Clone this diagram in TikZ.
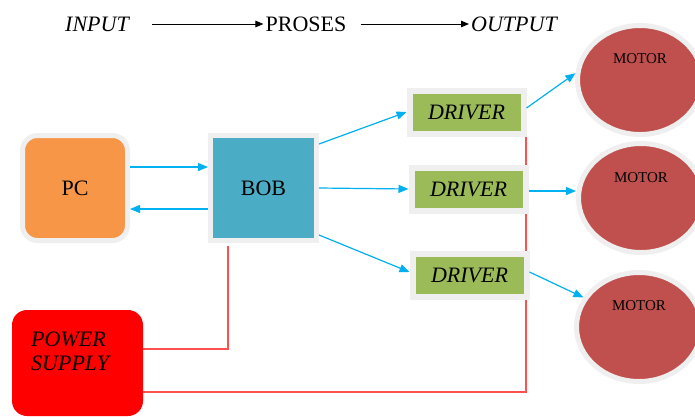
\documentclass[tikz,border=0pt]{standalone}
\usepackage{fontspec}
\setmainfont{Liberation Serif}
\usetikzlibrary{arrows.meta,shapes.geometric}

\definecolor{rimgray}{HTML}{EFEFEF}
\definecolor{pcorange}{HTML}{F79646}
\definecolor{bobblue}{HTML}{4BACC6}
\definecolor{drvgreen}{HTML}{9BBB59}
\definecolor{motorred}{HTML}{C0504D}
\definecolor{psred}{HTML}{FF0000}
\definecolor{sigblue}{HTML}{00B0F0}
\definecolor{pwrred}{HTML}{FF5050}

\tikzset{
  rim/.style={draw=rimgray, line width=5pt},
  big/.style={font=\fontsize{22}{24}\selectfont},
  drv/.style={rim, line width=6pt, fill=drvgreen, minimum width=114pt, minimum height=43pt,
    inner sep=0pt, font=\fontsize{22}{24}\selectfont\itshape},
  motor/.style={ellipse, rim, fill=motorred, minimum width=125pt, minimum height=109pt},
  motortext/.style={font=\fontsize{15}{17}\selectfont},
  flow/.style={draw=black, line width=1pt, -{Triangle[length=8pt,width=6.5pt]}},
  sig/.style={draw=sigblue, line width=1.2pt, -{Triangle[length=10pt,width=8pt]}},
  pwr/.style={draw=pwrred, line width=1.5pt}
}

\begin{document}
\begin{tikzpicture}[x=1pt,y=-1pt]
\useasboundingbox (0,0) rectangle (695,416);

% top line
\node[big, font=\fontsize{22}{24}\selectfont\itshape, inner sep=2pt] (input) at (97,24) {INPUT};
\node[big, inner sep=2pt] (proses) at (306,24) {PROSES};
\node[big, font=\fontsize{22}{24}\selectfont\itshape, inner sep=2pt] (output) at (514,24) {OUTPUT};
\draw[flow] ([xshift=21pt]input.east) -- (proses.west);
\draw[flow] ([xshift=12pt]proses.east) -- (output.west);

% blocks
\node[big, rim, fill=pcorange, rounded corners=15pt, minimum size=105pt] (pc) at (75,188) {PC};
\node[big, rim, fill=bobblue, minimum width=106pt, minimum height=105pt] (bob) at (263.5,188) {BOB};
\node[fill=psred, rounded corners=15pt, minimum width=131pt, minimum height=106pt] (ps) at (77.5,363) {};
\node[big, font=\fontsize{22}{24}\selectfont\itshape, align=left, anchor=west, inner sep=0pt] (pstext) at (31,351) {POWER\\SUPPLY};

% power lines
\coordinate (bus) at (526,128);
\draw[pwr] ([xshift=-35.5pt,yshift=-3pt]bob.south) |- ([yshift=14pt]ps.east);
\draw[pwr] ([yshift=-29pt]ps.east) -| (bus);

\node[drv] (d1) at (466.5,112) {DRIVER};
\node[drv] (d2) at (468.5,189) {DRIVER};
\node[drv] (d3) at (469.5,275) {DRIVER};

\node[motor] (m1) at (640,80) {};
\node[motor] (m2) at (641,198) {};
\node[motor] (m3) at (639,327) {};
\node[motortext] (m1t) at ([yshift=21pt]m1.center) {MOTOR};
\node[motortext] (m2t) at ([yshift=20pt]m2.center) {MOTOR};
\node[motortext] (m3t) at ([yshift=21pt]m3.center) {MOTOR};

% signals
\draw[sig] ([yshift=21pt]pc.east) -- ([yshift=21pt]bob.west);
\draw[sig] ([yshift=-21pt]bob.west) -- ([yshift=-21pt]pc.east);
\draw[sig] ([yshift=44pt]bob.east) -- (d1.west);
\draw[sig] (bob.east) -- (d2.west);
\draw[sig] ([yshift=-47pt]bob.east) -- ([yshift=3pt]d3.west);
\draw[sig] ([yshift=4pt]d1.east) -- (m1.174);
\draw[sig] ([yshift=-2pt]d2.east) -- ([yshift=7pt]m2.west);
\draw[sig] ([yshift=3pt]d3.east) -- (m3.152);

\end{tikzpicture}
\end{document}
